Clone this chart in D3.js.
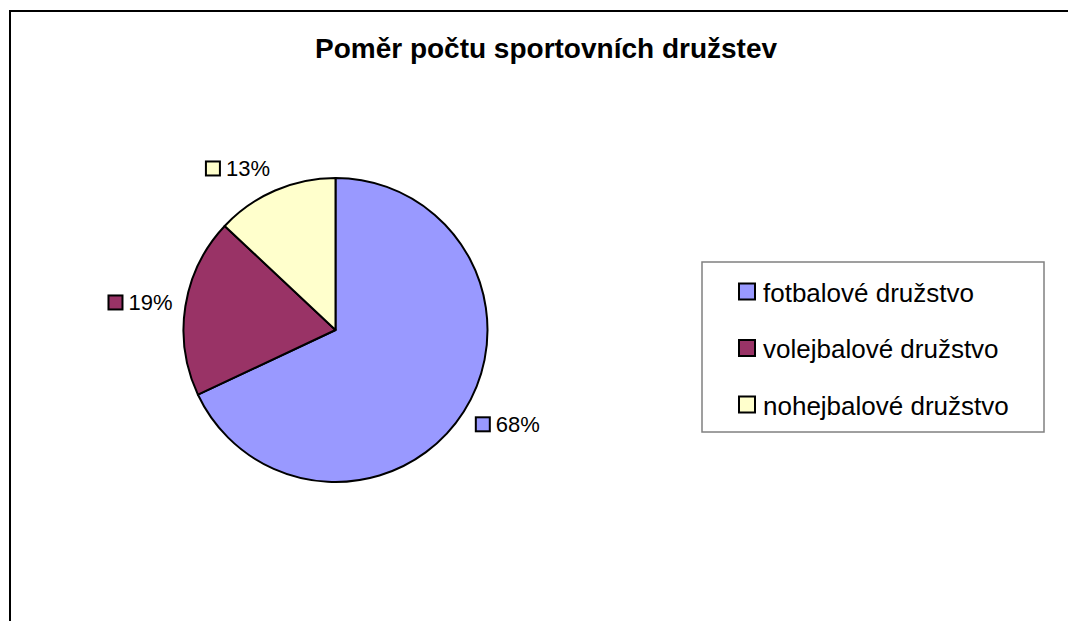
<!DOCTYPE html>
<html>
<head>
<meta charset="utf-8">
<script src="https://cdn.jsdelivr.net/npm/d3@7"></script>
<style>
  html, body { margin: 0; padding: 0; background: #fff; }
  svg { display: block; font-family: "Liberation Sans", Arial, sans-serif; }
</style>
</head>
<body>
<svg id="chart" width="1068" height="621"></svg>
<script>
const title = "Poměr počtu sportovních družstev";
const categories = ["fotbalové družstvo", "volejbalové družstvo", "nohejbalové družstvo"];
const values = [68, 19, 13];
const labels = ["68%", "19%", "13%"];
const colors = ["#9999FF", "#993366", "#FFFFCC"];

const svg = d3.select("#chart");
const W = 1068, H = 621;

// outer frame (top and left visible; cropped elsewhere)
svg.append("path")
  .attr("d", `M10,${H} L10,11 L${W},11`)
  .attr("fill", "none").attr("stroke", "#000").attr("stroke-width", 2);

// title
svg.append("text")
  .attr("x", 546).attr("y", 58)
  .attr("text-anchor", "middle")
  .attr("font-size", 28).attr("font-weight", "bold")
  .attr("fill", "#000")
  .text(title);

// pie
const cx = 335.5, cy = 330, R = 152;
const pie = d3.pie().sort(null).value(d => d)(values);
const arc = d3.arc().innerRadius(0).outerRadius(R);
const color = d3.scaleOrdinal().domain(categories).range(colors);

const g = svg.append("g").attr("transform", `translate(${cx},${cy})`);
g.selectAll("path.slice").data(pie).enter().append("path")
  .attr("class", "slice")
  .attr("d", arc)
  .attr("fill", (d, i) => color(categories[i]))
  .attr("stroke", "#000").attr("stroke-width", 2).attr("stroke-linejoin", "round");

// data labels
const labelR = R + 13;
const lh = 22;
pie.forEach((d, i) => {
  const a = (d.startAngle + d.endAngle) / 2;
  const ax = labelR * Math.sin(a), ay = -labelR * Math.cos(a);
  const lg = g.append("g");
  const t = lg.append("text")
    .attr("font-size", 22).attr("fill", "#000")
    .attr("x", 21).attr("y", 0)
    .text(labels[i]);
  const tw = t.node().getComputedTextLength();
  const w = 21 + tw;
  lg.insert("rect", "text")
    .attr("x", 1).attr("y", -15).attr("width", 14).attr("height", 14)
    .attr("fill", color(categories[i])).attr("stroke", "#000").attr("stroke-width", 2);
  const bcx = ax + Math.sign(Math.sin(a)) * w / 2;
  const bcy = ay - Math.cos(a) * lh / 2;
  lg.attr("transform", `translate(${bcx - w / 2},${bcy + 8})`);
});

// legend
const lx = 702, ly = 262, lw = 342, lhgt = 170;
svg.append("rect")
  .attr("x", lx).attr("y", ly).attr("width", lw).attr("height", lhgt)
  .attr("fill", "#fff").attr("stroke", "#808080").attr("stroke-width", 1.5);

const rowY = d3.scalePoint().domain(categories).range([301.5, 414.5]);
const items = svg.selectAll("g.leg").data(categories).enter().append("g")
  .attr("class", "leg")
  .attr("transform", d => `translate(0,${rowY(d)})`);
items.append("rect")
  .attr("x", 739).attr("y", -18).attr("width", 16).attr("height", 16)
  .attr("fill", d => color(d)).attr("stroke", "#000").attr("stroke-width", 2);
items.append("text")
  .attr("x", 763).attr("y", 0)
  .attr("font-size", 26).attr("fill", "#000")
  .text(d => d);
</script>
</body>
</html>
